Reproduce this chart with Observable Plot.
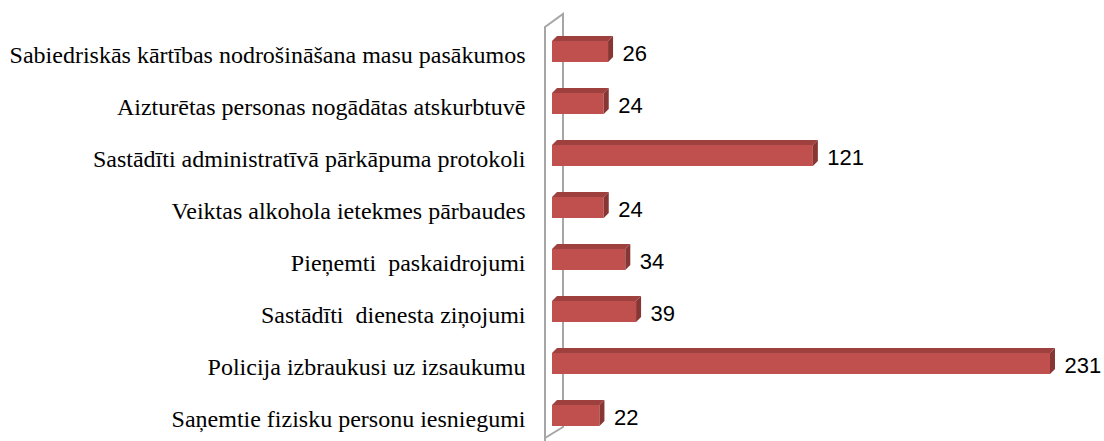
<!DOCTYPE html>
<html>
<head>
<meta charset="utf-8">
<script src="https://cdn.jsdelivr.net/npm/d3@7"></script>
<script src="https://cdn.jsdelivr.net/npm/@observablehq/plot@0.6"></script>
<style>
  html, body { margin: 0; padding: 0; background: #fff; }
  #chart { width: 1104px; height: 441px; overflow: hidden; }
</style>
</head>
<body>
<div id="chart"></div>
<script>
const categories = [
  "Sabiedriskās kārtības nodrošināšana masu pasākumos",
  "Aizturētas personas nogādātas atskurbtuvē",
  "Sastādīti administratīvā pārkāpuma protokoli",
  "Veiktas alkohola ietekmes pārbaudes",
  "Pieņemti  paskaidrojumi",
  "Sastādīti  dienesta ziņojumi",
  "Policija izbraukusi uz izsaukumu",
  "Saņemtie fizisku personu iesniegumi"
];
const values = [26, 24, 121, 24, 34, 39, 231, 22];

const data = categories.map((c, i) => ({category: c, value: values[i]}));

const plot = Plot.plot({
  width: 1104,
  height: 441,
  marginLeft: 552,
  marginRight: 54,
  marginTop: 0,
  marginBottom: 0,
  style: {background: "#fff", color: "#000", overflow: "visible"},
  x: {domain: [0, 231], range: [552, 1050], axis: null},
  y: {domain: categories, range: [24, 442], paddingInner: 0.6, paddingOuter: 0.3, align: 0.5, axis: null},
  marks: [
    Plot.axisY({tickSize: 0, tickPadding: 27, fontSize: 24, fontFamily: "Liberation Serif", fill: "#000", dy: 3, label: null}),
    Plot.barX(data, {x: "value", y: "category", fill: "#C0504D"}),
    Plot.text(data, {x: "value", y: "category", text: d => String(d.value), textAnchor: "start", dx: 14, dy: 2, fontSize: 22, fontFamily: "Liberation Sans", fill: "#000"})
  ]
});

document.getElementById("chart").appendChild(plot);

// 3D faces and wall, positioned through Plot's own scales
const svg = d3.select(plot);
const sx = plot.scale("x");
const sy = plot.scale("y");
const bw = sy.bandwidth;
const depth = 5;
const x0 = sx.apply(0);
const [r0, r1] = sy.range;

const wall = svg.insert("g", ":nth-child(2)");
wall.append("path")
  .attr("d", `M${x0 - 7},441 L${x0 - 7},${r0 + 3} L${x0 + 11},${r0 - 10} L${x0 + 11},${r1 - 15} L${x0 - 7},${r1 - 4}`)
  .attr("fill", "none")
  .attr("stroke", "#A6A6A6")
  .attr("stroke-width", 2);

const barsG = svg.select("g[aria-label='bar']").node();
if (barsG) plot.insertBefore(wall.node(), barsG);

const faces = svg.append("g");
data.forEach(d => {
  const x1 = sx.apply(d.value);
  const yt = sy.apply(d.category);
  const yb = yt + bw;
  faces.append("path")
    .attr("d", `M${x0},${yt} L${x1},${yt} L${x1 + depth},${yt - depth} L${x0 + depth},${yt - depth} Z`)
    .attr("fill", "#9E403E");
  faces.append("path")
    .attr("d", `M${x1},${yt} L${x1 + depth},${yt - depth} L${x1 + depth},${yb - depth} L${x1},${yb} Z`)
    .attr("fill", "#873634");
});
</script>
</body>
</html>
